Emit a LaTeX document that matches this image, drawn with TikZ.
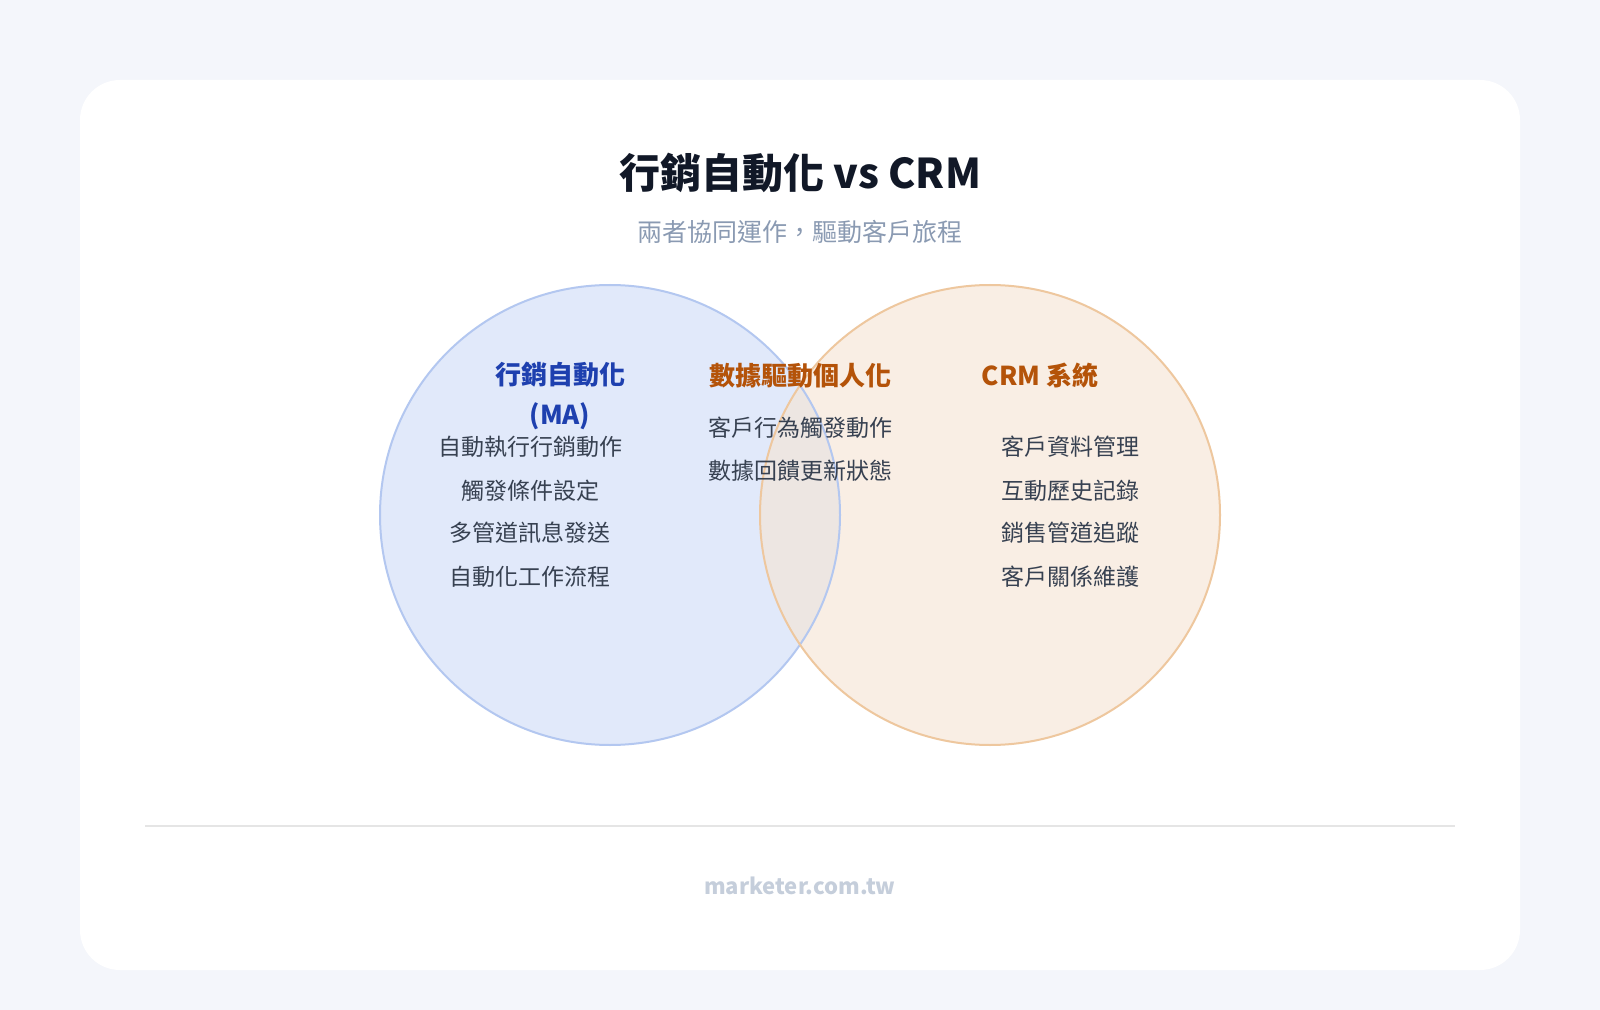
\documentclass[tikz,border=0pt]{standalone}
\usepackage{fontspec}
\setmainfont{Noto Sans CJK TC}
\definecolor{bgc}{HTML}{F4F6FB}
\definecolor{titlec}{HTML}{111827}
\definecolor{subc}{HTML}{8A9AB2}
\definecolor{mac}{HTML}{1E40AF}
\definecolor{crmc}{HTML}{B45309}
\definecolor{itemc}{HTML}{374151}
\definecolor{footc}{HTML}{C5CEDB}
\definecolor{blfill}{HTML}{DCE6FA}
\definecolor{bldraw}{HTML}{B3C7F0}
\definecolor{orfill}{HTML}{F6E4D3}
\definecolor{ordraw}{HTML}{EEC79E}
\begin{document}
\begin{tikzpicture}[x=0.5pt,y=-0.5pt]
  \tikzset{ head/.style={font=\fontsize{13}{20}\selectfont\bfseries,align=center},
    item/.style={font=\fontsize{11.5}{13}\selectfont,text=itemc},
  }
  \fill[bgc] (0,0) rectangle (1600,1010);
  \fill[white,rounded corners=20pt] (80,80) rectangle (1520,970);

  % the two circles
  \fill[blfill,opacity=0.85] (610,515) circle[radius=230];
  \fill[orfill,opacity=0.6] (990,515) circle[radius=230];
  \draw[bldraw,line width=1pt] (610,515) circle[radius=230];
  \draw[ordraw,line width=1pt] (990,515) circle[radius=230];

  \node[font=\fontsize{20.5}{24}\selectfont\bfseries,text=titlec] (title) at (800,173) {行銷自動化 vs CRM};
  \node[font=\fontsize{12.5}{14}\selectfont,text=subc] (sub) at (800,232) {兩者協同運作，驅動客戶旅程};

  \node[head,text=mac] (ma) at (560,396) {行銷自動化\\(MA)};
  \node[head,text=crmc] (mid) at (800,376) {數據驅動個人化};
  \node[head,text=crmc] (crm) at (1040,376) {CRM 系統};

  \node[item] (ma1) at (530,447) {自動執行行銷動作};
  \node[item] (ma2) at (530,491) {觸發條件設定};
  \node[item] (ma3) at (530,533) {多管道訊息發送};
  \node[item] (ma4) at (530,577) {自動化工作流程};
  \node[item] (mid1) at (800,428) {客戶行為觸發動作};
  \node[item] (mid2) at (800,471) {數據回饋更新狀態};
  \node[item] (crm1) at (1070,447) {客戶資料管理};
  \node[item] (crm2) at (1070,491) {互動歷史記錄};
  \node[item] (crm3) at (1070,533) {銷售管道追蹤};
  \node[item] (crm4) at (1070,577) {客戶關係維護};

  \draw[gray!20,line width=0.6pt] (145,826) -- (1455,826);
  \node[font=\fontsize{11}{13}\selectfont\bfseries,text=footc] (foot) at (800,886) {marketer.com.tw};
\end{tikzpicture}
\end{document}
